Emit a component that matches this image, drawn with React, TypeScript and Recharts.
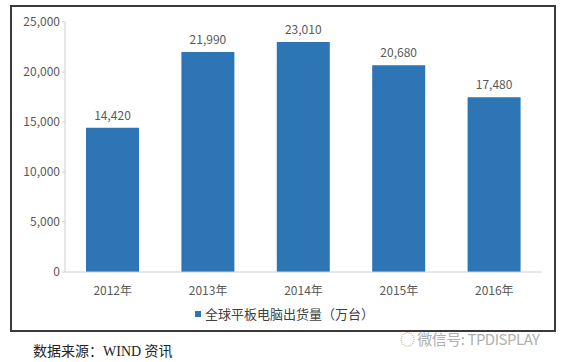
import { BarChart, Bar, XAxis, YAxis, LabelList } from "recharts";

const years = ["2012年", "2013年", "2014年", "2015年", "2016年"];
const shipments = [14420, 21990, 23010, 20680, 17480];
const yTicks = [0, 5000, 10000, 15000, 20000, 25000];

const data = years.map((year, i) => ({ year, value: shipments[i] }));

const BAR_COLOR = "#2E75B6";
const TEXT_COLOR = "#595959";
const FONT = '"Noto Sans CJK SC", "Noto Sans", sans-serif';

const fmt = (v: number) => v.toLocaleString("en-US");

export default function App() {
  return (
    <div style={{ position: "absolute", left: 0, top: 0, width: 568, height: 362, background: "#fff", fontFamily: FONT }}>
      {/* framed chart */}
      <div
        style={{
          position: "absolute",
          left: 10,
          top: 5,
          width: 542,
          height: 323,
          border: "2px solid #3a3a3a",
          background: "#fff",
        }}
      >
        <BarChart
          width={542}
          height={290}
          data={data}
          margin={{ top: 15, right: 12, left: 8, bottom: 0 }}
          barCategoryGap="22%"
        >
          <XAxis
            dataKey="year"
            axisLine={{ stroke: "#d0d0d0" }}
            tickLine={false}
            tick={{ fill: TEXT_COLOR, fontSize: 12, fontFamily: FONT }}
            tickMargin={8}
            height={25}
          />
          <YAxis
            domain={[0, 25000]}
            ticks={yTicks}
            tickFormatter={fmt}
            axisLine={{ stroke: "#d0d0d0" }}
            tickLine={{ stroke: "#d0d0d0" }}
            tickSize={3}
            tick={{ fill: TEXT_COLOR, fontSize: 12, fontFamily: FONT }}
            width={45}
          />
          <Bar dataKey="value" fill={BAR_COLOR} isAnimationActive={false}>
            <LabelList
              dataKey="value"
              position="top"
              offset={8}
              formatter={(v: any) => fmt(Number(v))}
              style={{ fill: TEXT_COLOR, fontSize: 12, fontFamily: FONT }}
            />
          </Bar>
        </BarChart>
        {/* legend */}
        <div
          style={{
            position: "absolute",
            left: 183,
            top: 297,
            display: "flex",
            alignItems: "center",
            gap: 4,
            fontSize: 13,
            color: "#404040",
          }}
        >
          <span style={{ display: "inline-block", width: 6, height: 6, background: BAR_COLOR }} />
          <span>全球平板电脑出货量（万台）</span>
        </div>
      </div>
      {/* watermark */}
      <div
        style={{
          position: "absolute",
          left: 400,
          top: 328,
          fontSize: 15,
          color: "#b0b0b0",
          letterSpacing: -0.5,
        }}
      >
        ◌ 微信号: TPDISPLAY
      </div>
      {/* source */}
      <div
        style={{
          position: "absolute",
          left: 33,
          top: 340,
          fontSize: 14,
          color: "#222",
          fontFamily: '"Liberation Serif", "Noto Sans CJK SC", serif',
        }}
      >
        数据来源：WIND 资讯
      </div>
    </div>
  );
}
